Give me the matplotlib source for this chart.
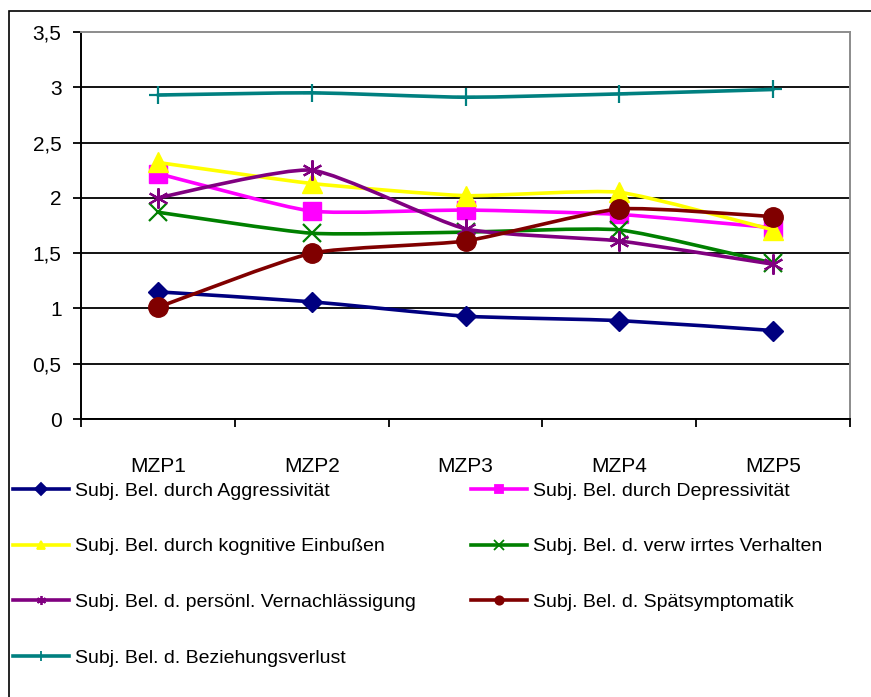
import matplotlib
matplotlib.use("Agg")
import matplotlib.pyplot as plt
import numpy as np
from matplotlib.path import Path
from matplotlib.patches import PathPatch, Rectangle
from matplotlib.lines import Line2D

plt.rcParams['font.family'] = ['Liberation Sans', 'DejaVu Sans']

categories = ['MZP1', 'MZP2', 'MZP3', 'MZP4', 'MZP5']
aggr = [1.15, 1.06, 0.93, 0.89, 0.80]
depr = [2.22, 1.88, 1.89, 1.85, 1.73]
kogn = [2.32, 2.13, 2.02, 2.05, 1.71]
verw = [1.87, 1.68, 1.69, 1.71, 1.41]
pers = [2.00, 2.25, 1.72, 1.61, 1.40]
spaet = [1.01, 1.50, 1.61, 1.90, 1.83]
bez = [2.93, 2.95, 2.91, 2.94, 2.98]

y_ticks = [0, 0.5, 1, 1.5, 2, 2.5, 3, 3.5]
y_ticklabels = ['0', '0,5', '1', '1,5', '2', '2,5', '3', '3,5']

# label, values, colour, marker, marker size, filled?
series = [
    ('Subj. Bel. durch Aggressivität', aggr, '#000080', 'D', 10, True),
    ('Subj. Bel. durch Depressivität', depr, '#FF00FF', 's', 12.5, True),
    ('Subj. Bel. durch kognitive Einbußen', kogn, '#FFFF00', '^', 15, True),
    ('Subj. Bel. d. verw irrtes Verhalten', verw, '#008000', 'x', 12.5, False),
    ('Subj. Bel. d. persönl. Vernachlässigung', pers, '#800080', (6, 2, 0), 14.5, False),
    ('Subj. Bel. d. Spätsymptomatik', spaet, '#800000', 'o', 14, True),
    ('Subj. Bel. d. Beziehungsverlust', bez, '#008080', '+', 13, False),
]


def smooth_path(xs, ys, t=0.09):
    # excel-like smoothed line, soft bezier segments
    pts = np.column_stack([xs, ys]).astype(float)
    p = np.vstack([pts[0], pts, pts[-1]])
    verts = [pts[0]]
    codes = [Path.MOVETO]
    for i in range(len(pts) - 1):
        p0, p1, p2, p3 = p[i], p[i + 1], p[i + 2], p[i + 3]
        verts += [p1 + (p2 - p0) * t, p2 - (p3 - p1) * t, p2]
        codes += [Path.CURVE4] * 3
    return Path(verts, codes)


fig = plt.figure(figsize=(8.71, 6.97), dpi=100)
ax = fig.add_axes([81 / 871, 1 - 419 / 697, (850 - 81) / 871, (419 - 32) / 697])

x = np.arange(len(categories))
handles = []
for k, (label, vals, col, mk, ms, filled) in enumerate(series):
    z = 3 + k * 0.1
    ax.add_patch(PathPatch(smooth_path(x, vals), facecolor='none', edgecolor=col,
                           lw=2.6, zorder=z, capstyle='round', joinstyle='round'))
    if filled:
        ax.plot(x, vals, ls='none', marker=mk, ms=ms, color=col, mec=col, zorder=z + 0.05)
    else:
        ax.plot(x, vals, ls='none', marker=mk, ms=ms, color=col, mew=1.6, zorder=z + 0.05)
    handles.append(Line2D([], [], color=col, lw=2.6, marker=mk, ms=6 if filled else 6.5,
                          mew=1.3, label=label))

ax.set_xlim(-0.5, len(categories) - 0.5)
ax.set_ylim(0, 3.5)
ax.set_yticks(y_ticks)
ax.set_yticklabels(y_ticklabels, fontsize=15)
ax.set_xticks(np.arange(-0.5, len(categories)), labels=[''] * (len(categories) + 1))
ax.set_xticks(x, labels=categories, minor=True, fontsize=15)
ax.tick_params(axis='x', which='major', direction='out', length=6, width=1.3, color='black')
ax.tick_params(axis='x', which='minor', length=0, pad=27)
ax.tick_params(axis='y', direction='out', length=6, width=1.3, pad=8)

ax.yaxis.grid(True, color='black', lw=1.3)
ax.get_ygridlines()[-1].set_visible(False)
ax.set_axisbelow(True)

for side in ['left', 'bottom']:
    ax.spines[side].set_color('black')
    ax.spines[side].set_linewidth(1.4)
for side in ['top', 'right']:
    ax.spines[side].set_color('#8c8c8c')
    ax.spines[side].set_linewidth(1.4)

# legend read row-wise in the original: reorder for column-first filling
order = [0, 2, 4, 6, 1, 3, 5]
fig.legend([handles[i] for i in order], [handles[i].get_label() for i in order],
           loc='upper left', bbox_to_anchor=(13 / 871, 1 - 482 / 697), ncol=2,
           frameon=False, fontsize=14, handlelength=2.9, handletextpad=0.3,
           columnspacing=2.8, labelspacing=1.96, borderpad=0, borderaxespad=0)

fig.patches.append(Rectangle((9 / 871, -0.1), 1.2, 1 - 11 / 697 + 0.1,
                             transform=fig.transFigure, fill=False,
                             edgecolor='black', lw=1.2, zorder=0))

fig.savefig('out.png', dpi=100)
